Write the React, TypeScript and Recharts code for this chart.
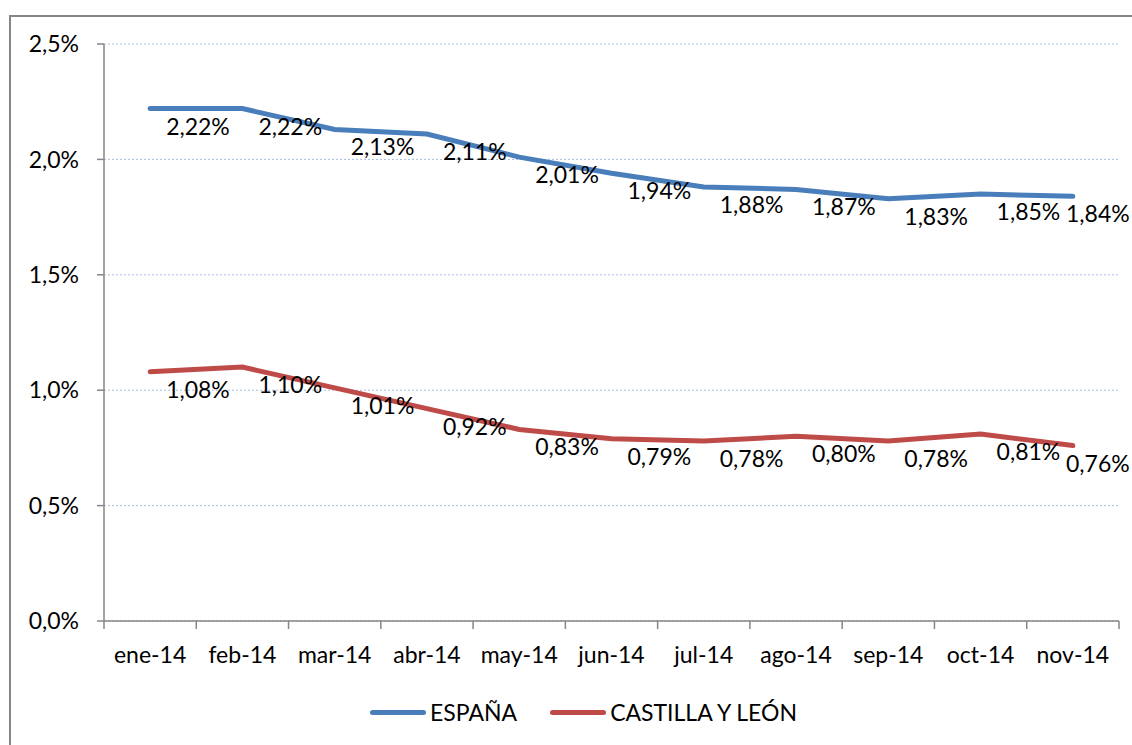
import { CartesianGrid, LabelList, Line, LineChart, XAxis, YAxis } from "recharts";

const months = ["ene-14", "feb-14", "mar-14", "abr-14", "may-14", "jun-14", "jul-14", "ago-14", "sep-14", "oct-14", "nov-14"];
const espana = [2.22, 2.22, 2.13, 2.11, 2.01, 1.94, 1.88, 1.87, 1.83, 1.85, 1.84];
const castilla = [1.08, 1.1, 1.01, 0.92, 0.83, 0.79, 0.78, 0.8, 0.78, 0.81, 0.76];
const yTicks = [0, 0.5, 1, 1.5, 2, 2.5];

const data = months.map((m, i) => ({ pos: i + 0.5, month: m, espana: espana[i], castilla: castilla[i] }));
const xTicks = months.map((_, i) => i).concat(months.length);

const W = 1132;
const H = 745;
const LEFT = 104;
const RIGHT = 13;
const BAND = (W - LEFT - RIGHT) / months.length;
const FONT = "Lato, 'Liberation Sans', sans-serif";
const BLUE = "#4a7ebb";
const RED = "#be4b48";
const GRAY = "#868686";
const LABEL_W = 64;

const pct = (v: number, d: number) => v.toFixed(d).replace(".", ",") + "%";

function MonthTick(props: any) {
  const { x, y, payload } = props;
  const idx = payload.value;
  if (idx >= months.length) return null;
  return (
    <text x={x + BAND / 2} y={y + 32} textAnchor="middle" fontSize={23} fontFamily={FONT} fill="#000">
      {months[idx]}
    </text>
  );
}

function PointLabel(props: any) {
  const { x, y, value } = props;
  // keep the last label inside the frame
  const left = Math.min(x + 16, W - 2 - LABEL_W);
  return (
    <text x={left} y={y + 26} fontSize={23} fontFamily={FONT} fill="#000">
      {pct(value, 2)}
    </text>
  );
}

export default function App() {
  return (
    <div style={{ position: "absolute", left: 0, top: 0, width: W, height: H, overflow: "hidden", background: "#fff" }}>
      <div
        style={{
          position: "absolute",
          left: 9,
          top: 15,
          width: W + 20,
          height: H + 20,
          border: `2px solid ${GRAY}`,
          boxSizing: "border-box",
        }}
      />
      <LineChart width={W} height={H} data={data} margin={{ top: 44, right: RIGHT, bottom: 74, left: 0 }}>
        <CartesianGrid vertical={false} stroke="#a7bfe4" strokeDasharray="2 2" />
        <XAxis
          dataKey="pos"
          type="number"
          domain={[0, months.length]}
          ticks={xTicks}
          interval={0}
          height={50}
          tickSize={8}
          stroke={GRAY}
          strokeWidth={1.5}
          tick={<MonthTick />}
        />
        <YAxis
          domain={[0, 2.5]}
          ticks={yTicks}
          width={LEFT}
          tickSize={7}
          tickMargin={18}
          stroke={GRAY}
          strokeWidth={1.5}
          tickFormatter={(v: number) => pct(v, 1)}
          tick={{ fontSize: 23, fontFamily: FONT, fill: "#000" }}
        />
        <Line
          dataKey="espana"
          type="linear"
          stroke={BLUE}
          strokeWidth={5}
          strokeLinecap="round"
          dot={false}
          isAnimationActive={false}
        >
          <LabelList dataKey="espana" content={<PointLabel />} />
        </Line>
        <Line
          dataKey="castilla"
          type="linear"
          stroke={RED}
          strokeWidth={5}
          strokeLinecap="round"
          dot={false}
          isAnimationActive={false}
        >
          <LabelList dataKey="castilla" content={<PointLabel />} />
        </Line>
      </LineChart>
      <div
        style={{
          position: "absolute",
          left: 370,
          top: 698,
          height: 28,
          display: "flex",
          alignItems: "center",
          fontFamily: FONT,
          fontSize: 23,
          color: "#000",
        }}
      >
        {[
          { name: "ESPAÑA", color: BLUE },
          { name: "CASTILLA Y LEÓN", color: RED },
        ].map((s, i) => (
          <div key={s.name} style={{ display: "flex", alignItems: "center", marginLeft: i ? 33 : 0 }}>
            <div style={{ width: 56, height: 5, borderRadius: 3, background: s.color, marginRight: 4 }} />
            <span>{s.name}</span>
          </div>
        ))}
      </div>
    </div>
  );
}
